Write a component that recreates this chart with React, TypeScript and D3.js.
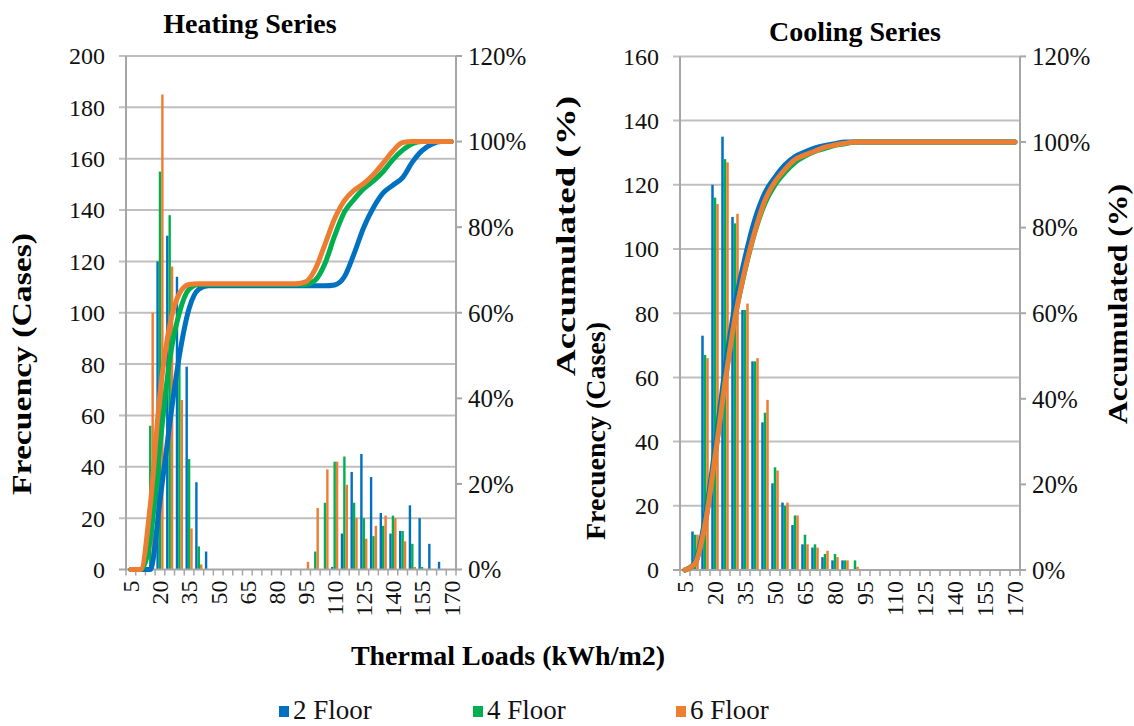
import React, { useRef, useEffect } from "react";
import * as d3 from "d3";

// categories of thermal load (kWh/m2)
const categories = [
  "5", "10", "15", "20", "25", "30", "35", "40", "45", "50", "55", "60",
  "65", "70", "75", "80", "85", "90", "95", "100", "105", "110", "115", "120",
  "125", "130", "135", "140", "145", "150", "155", "160", "165", "170",
];
const xLabels = ["5", "20", "35", "50", "65", "80", "95", "110", "125", "140", "155", "170"];
const floors = ["2 Floor", "4 Floor", "6 Floor"];
const colors = ["#0070c0", "#00b050", "#ed7d31"];
const pctTicks = [0, 20, 40, 60, 80, 100, 120];

// heating frequencies (cases)
const heatBlue = [0, 0, 0, 120, 130, 114, 79, 34, 7, 0, 0, 0, 0, 0, 0, 0, 0, 0, 0, 0, 0, 1, 14, 38, 45, 36, 22, 14, 15, 25, 20, 10, 3, 0];
const heatGreen = [0, 0, 56, 155, 138, 82, 43, 9, 0, 0, 0, 0, 0, 0, 0, 0, 0, 0, 0, 7, 26, 42, 44, 26, 20, 13, 17, 21, 15, 10, 1, 0, 0, 0];
const heatOrange = [0, 0, 100, 185, 118, 66, 16, 2, 0, 0, 0, 0, 0, 0, 0, 0, 0, 0, 3, 24, 39, 42, 33, 20, 12, 17, 21, 20, 11, 1, 0, 0, 0, 0];

// heating accumulated (%)
const heatBlueAcc = [0, 0, 0, 16, 34, 50, 61, 65.5, 66.3, 66.3, 66.3, 66.3, 66.3, 66.3, 66.3, 66.3, 66.3, 66.3, 66.3, 66.3, 66.3, 66.5, 68.4, 73.8, 80, 84.6, 88, 89.8, 91.6, 95.2, 97.9, 99.4, 100, 100];
const heatGreenAcc = [0, 0, 7, 29, 49, 60, 65.5, 66.6, 66.6, 66.6, 66.6, 66.6, 66.6, 66.6, 66.6, 66.6, 66.6, 66.6, 66.6, 67.6, 71.5, 78, 83.5, 86.5, 89, 90.8, 93, 95.8, 98, 99.5, 100, 100, 100, 100];
const heatOrangeAcc = [0, 0, 15, 41, 57, 64.5, 66.6, 66.8, 66.8, 66.8, 66.8, 66.8, 66.8, 66.8, 66.8, 66.8, 66.8, 66.8, 67.2, 70.2, 76, 82, 86.2, 88.6, 90.2, 92.3, 95, 97.8, 99.8, 100, 100, 100, 100, 100];

// cooling frequencies (cases)
const coolBlue = [0, 12, 73, 120, 135, 110, 81, 65, 46, 27, 21, 14, 8, 7, 4, 3, 3, 0, 0, 0, 0, 0, 0, 0, 0, 0, 0, 0, 0, 0, 0, 0, 0, 0];
const coolGreen = [0, 11, 67, 116, 128, 108, 81, 65, 49, 32, 20, 17, 11, 8, 5, 5, 3, 3, 0, 0, 0, 0, 0, 0, 0, 0, 0, 0, 0, 0, 0, 0, 0, 0];
const coolOrange = [0, 11, 66, 114, 127, 111, 83, 66, 53, 31, 21, 17, 8, 7, 6, 4, 3, 1, 0, 0, 0, 0, 0, 0, 0, 0, 0, 0, 0, 0, 0, 0, 0, 0];

// cooling accumulated (%)
const coolBlueAcc = [0, 1.8, 12, 28.5, 47, 62, 73, 82, 88.2, 91.8, 94.7, 96.6, 97.7, 98.6, 99.2, 99.6, 100, 100, 100, 100, 100, 100, 100, 100, 100, 100, 100, 100, 100, 100, 100, 100, 100, 100];
const coolGreenAcc = [0, 1.5, 10.7, 26.6, 44.2, 59, 70, 79, 85.7, 90, 92.9, 95.2, 96.7, 97.8, 98.5, 99.2, 99.6, 100, 100, 100, 100, 100, 100, 100, 100, 100, 100, 100, 100, 100, 100, 100, 100, 100];
const coolOrangeAcc = [0, 1.5, 10.5, 26.2, 43.6, 58.8, 70.2, 79.2, 86.4, 90.7, 93.6, 95.9, 97, 97.9, 98.8, 99.3, 99.7, 100, 100, 100, 100, 100, 100, 100, 100, 100, 100, 100, 100, 100, 100, 100, 100, 100];

const FONT = "'Liberation Serif', 'Times New Roman', serif";
const GRID = "#bfbfbf";
const AXIS = "#a6a6a6";

const drawPanel = (svg, cfg) => {
  const x = d3.scaleBand().domain(categories).range([cfg.left, cfg.right]).padding(0);
  const bw = x.bandwidth();
  const y = d3.scaleLinear().domain([0, cfg.max]).range([cfg.bottom, cfg.top]);
  const yPct = d3.scaleLinear().domain([0, 120]).range([cfg.bottom, cfg.top]);
  const inner = d3
    .scaleBand()
    .domain([0, 1, 2])
    .range([(bw - cfg.barW * 3) / 2, (bw + cfg.barW * 3) / 2]);
  const freqTicks = d3.range(0, cfg.max + 1, 20);

  const g = svg.append("g");

  // gridlines + left ticks
  g.selectAll(".grid")
    .data(freqTicks.filter((d) => d > 0))
    .join("line")
    .attr("x1", cfg.left - 7)
    .attr("x2", cfg.right)
    .attr("y1", (d) => y(d))
    .attr("y2", (d) => y(d))
    .attr("stroke", GRID)
    .attr("stroke-width", 2);

  g.selectAll(".ytick")
    .data(freqTicks)
    .join("text")
    .attr("x", cfg.left - 21)
    .attr("y", (d) => y(d))
    .attr("dy", "0.35em")
    .attr("text-anchor", "end")
    .attr("font-family", FONT)
    .attr("font-size", 24)
    .attr("fill", "#111")
    .text((d) => d);

  // bars
  cfg.freq.forEach((series, s) => {
    g.append("g")
      .selectAll("rect")
      .data(series.map((v, i) => ({ v, c: categories[i] })).filter((d) => d.v > 0))
      .join("rect")
      .attr("x", (d) => x(d.c) + inner(s))
      .attr("y", (d) => y(d.v))
      .attr("width", inner.bandwidth())
      .attr("height", (d) => cfg.bottom - y(d.v))
      .attr("fill", colors[s]);
  });

  // axes
  g.append("line")
    .attr("x1", cfg.left).attr("x2", cfg.left)
    .attr("y1", cfg.top).attr("y2", cfg.bottom)
    .attr("stroke", AXIS).attr("stroke-width", 2);
  g.append("line")
    .attr("x1", cfg.right).attr("x2", cfg.right)
    .attr("y1", cfg.top).attr("y2", cfg.bottom)
    .attr("stroke", AXIS).attr("stroke-width", 2);
  g.append("line")
    .attr("x1", cfg.left - 7).attr("x2", cfg.right)
    .attr("y1", cfg.bottom).attr("y2", cfg.bottom)
    .attr("stroke", AXIS).attr("stroke-width", 2);

  g.selectAll(".xtick")
    .data(categories.map((c) => x(c)).concat([cfg.right]))
    .join("line")
    .attr("x1", (d) => d).attr("x2", (d) => d)
    .attr("y1", cfg.bottom).attr("y2", cfg.bottom + 6)
    .attr("stroke", AXIS).attr("stroke-width", 1.5);

  g.selectAll(".xlabel")
    .data(xLabels)
    .join("text")
    .attr("transform", (d) => `translate(${x(d) + bw / 2},${cfg.bottom + 11}) rotate(-90)`)
    .attr("dy", "0.35em")
    .attr("text-anchor", "end")
    .attr("font-family", FONT)
    .attr("font-size", 24)
    .attr("fill", "#111")
    .text((d) => d);

  // right axis (accumulated)
  g.selectAll(".ptick")
    .data(pctTicks)
    .join("line")
    .attr("x1", cfg.right).attr("x2", cfg.right + 6)
    .attr("y1", (d) => yPct(d)).attr("y2", (d) => yPct(d))
    .attr("stroke", AXIS).attr("stroke-width", 2);

  g.selectAll(".plabel")
    .data(pctTicks)
    .join("text")
    .attr("x", cfg.right + 12)
    .attr("y", (d) => yPct(d))
    .attr("dy", "0.35em")
    .attr("font-family", FONT)
    .attr("font-size", 25)
    .attr("fill", "#111")
    .text((d) => d + "%");

  // accumulated lines
  const line = d3
    .line()
    .x((d, i) => x(categories[i]) + bw / 2)
    .y((d) => yPct(d))
    .curve(d3.curveMonotoneX);

  cfg.acc.forEach((series, s) => {
    g.append("path")
      .attr("d", line(series))
      .attr("fill", "none")
      .attr("stroke", colors[s])
      .attr("stroke-width", 5)
      .attr("stroke-linejoin", "round")
      .attr("stroke-linecap", "round");
  });

  // title
  g.append("text")
    .attr("x", cfg.titleX)
    .attr("y", cfg.titleY)
    .attr("text-anchor", "middle")
    .attr("font-family", FONT)
    .attr("font-weight", "bold")
    .attr("font-size", 28)
    .text(cfg.title);

  const vTitle = (text, pos) =>
    g.append("text")
      .attr("transform", `translate(${pos[0]},${pos[1]}) rotate(-90)`)
      .attr("text-anchor", "middle")
      .attr("font-family", FONT)
      .attr("font-weight", "bold")
      .attr("font-size", 27)
      .attr("textLength", pos[2])
      .attr("lengthAdjust", "spacingAndGlyphs")
      .text(text);

  vTitle("Frecuency (Cases)", cfg.freqTitle);
  vTitle("Accumulated (%)", cfg.accTitle);
};

const App = () => {
  const svgRef = useRef(null);

  useEffect(() => {
    const svg = d3.select(svgRef.current);
    svg.selectAll("*").remove();

    drawPanel(svg, {
      left: 126,
      right: 456,
      top: 56,
      bottom: 569.5,
      max: 200,
      barW: 2.4,
      freq: [heatBlue, heatGreen, heatOrange],
      acc: [heatBlueAcc, heatGreenAcc, heatOrangeAcc],
      title: "Heating Series",
      titleX: 250,
      titleY: 33,
      freqTitle: [31, 364, 262],
      accTitle: [575, 236, 280],
    });

    drawPanel(svg, {
      left: 680,
      right: 1020,
      top: 56.4,
      bottom: 570,
      max: 160,
      barW: 2.5,
      freq: [coolBlue, coolGreen, coolOrange],
      acc: [coolBlueAcc, coolGreenAcc, coolOrangeAcc],
      title: "Cooling Series",
      titleX: 855,
      titleY: 41,
      freqTitle: [605, 431, 218],
      accTitle: [1127, 304, 240],
    });

    svg.append("text")
      .attr("x", 508)
      .attr("y", 665)
      .attr("text-anchor", "middle")
      .attr("font-family", FONT)
      .attr("font-weight", "bold")
      .attr("font-size", 28)
      .text("Thermal Loads (kWh/m2)");

    const legendX = [279, 473, 676];
    const legend = svg
      .selectAll(".legend")
      .data(floors)
      .join("g")
      .attr("transform", (d, i) => `translate(${legendX[i]},706)`);
    legend.append("rect")
      .attr("width", 10)
      .attr("height", 11)
      .attr("fill", (d, i) => colors[i]);
    legend.append("text")
      .attr("x", 14)
      .attr("y", 13)
      .attr("font-family", FONT)
      .attr("font-size", 27)
      .attr("fill", "#111")
      .text((d) => d);
  }, []);

  return (
    <div style={{ position: "absolute", left: 0, top: 0 }}>
      <svg ref={svgRef} width={1134} height={726} style={{ display: "block", background: "#fff" }}></svg>
    </div>
  );
};

export default App;
